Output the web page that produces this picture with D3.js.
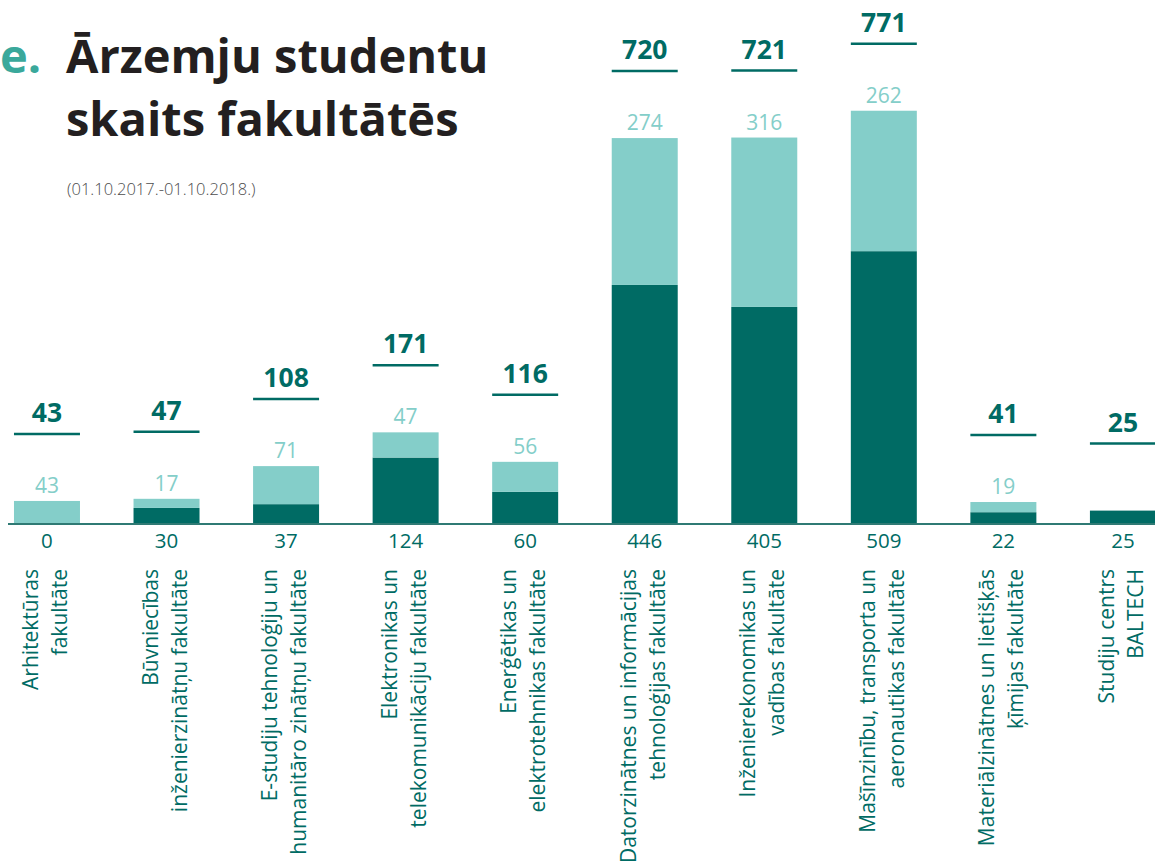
<!DOCTYPE html>
<html><head><meta charset="utf-8">
<script src="https://cdn.jsdelivr.net/npm/d3@7"></script>
<style>
html,body{margin:0;padding:0;background:#fff;}
svg{display:block;}
text{font-family:"Open Sans","Noto Sans",sans-serif;}
</style></head>
<body>
<svg id="chart" width="1155" height="866"></svg>
<script>
const categories = [
  ["Arhitektūras", "fakultāte"],
  ["Būvniecības", "inženierzinātņu fakultāte"],
  ["E-studiju tehnoloģiju un", "humanitāro zinātņu fakultāte"],
  ["Elektronikas un", "telekomunikāciju fakultāte"],
  ["Enerģētikas un", "elektrotehnikas fakultāte"],
  ["Datorzinātnes un informācijas", "tehnoloģijas fakultāte"],
  ["Inženierekonomikas un", "vadības fakultāte"],
  ["Mašīnzinību, transporta un", "aeronautikas fakultāte"],
  ["Materiālzinātnes un lietišķās", "ķīmijas fakultāte"],
  ["Studiju centrs", "BALTECH"]
];
const darkValues  = [0, 30, 37, 124, 60, 446, 405, 509, 22, 25];
const lightValues = [43, 17, 71, 47, 56, 274, 316, 262, 19, 0];
const totals      = [43, 47, 108, 171, 116, 720, 721, 771, 41, 25];

const DARK = "#006b64", LIGHT = "#84cec9";
const svg = d3.select("#chart");
const ids = categories.map((c, i) => i);

const step = 119.55;
const x = d3.scaleBand().domain(ids).range([-12.8, -12.8 + 10 * step]).paddingInner(0.448).paddingOuter(0.224);
const y = d3.scaleLinear().domain([0, 800]).range([524, 524 - 800 * 0.536]);

const data = ids.map(i => ({i, dark: darkValues[i], light: lightValues[i], total: totals[i]}));
const stack = d3.stack().keys(["dark", "light"])(data);
const colors = {dark: DARK, light: LIGHT};

svg.append("g").selectAll("g").data(stack).join("g")
  .attr("fill", d => colors[d.key])
  .selectAll("rect").data(d => d).join("rect")
  .attr("x", d => x(d.data.i))
  .attr("width", x.bandwidth())
  .attr("y", d => y(d[1]))
  .attr("height", d => y(d[0]) - y(d[1]));

// axis baseline
svg.append("line").attr("x1", 8).attr("x2", 1155).attr("y1", y(0)).attr("y2", y(0))
  .attr("stroke", "#2f7a74").attr("stroke-width", 2);

// light segment labels
svg.append("g").selectAll("text").data(data.filter(d => d.light > 0)).join("text")
  .attr("x", d => x(d.i) + x.bandwidth() / 2)
  .attr("y", d => y(d.dark + d.light) - 8)
  .attr("text-anchor", "middle").attr("font-size", 21).attr("fill", LIGHT)
  .text(d => d.light);

// totals
svg.append("g").selectAll("text").data(data).join("text")
  .attr("x", d => x(d.i) + x.bandwidth() / 2)
  .attr("y", d => y(d.total) - 79)
  .attr("text-anchor", "middle").attr("font-size", 26.5).attr("font-weight", 700).attr("fill", DARK)
  .text(d => d.total);
svg.append("g").selectAll("line").data(data).join("line")
  .attr("x1", d => x(d.i)).attr("x2", d => x(d.i) + x.bandwidth())
  .attr("y1", d => y(d.total) - 67).attr("y2", d => y(d.total) - 67)
  .attr("stroke", DARK).attr("stroke-width", 2.5);

// dark values below axis
svg.append("g").selectAll("text").data(data).join("text")
  .attr("x", d => x(d.i) + x.bandwidth() / 2)
  .attr("y", y(0) + 24)
  .attr("text-anchor", "middle").attr("font-size", 20.5).attr("fill", DARK)
  .text(d => d.dark);

// category labels
const lab = svg.append("g").selectAll("text").data(ids).join("text")
  .attr("text-anchor", "end").attr("font-size", 21).attr("fill", DARK)
  .attr("transform", i => `translate(${x(i) + x.bandwidth() / 2},569) rotate(-90)`);
lab.append("tspan").attr("x", 0).attr("y", -9).text(i => categories[i][0]);
lab.append("tspan").attr("x", 0).attr("y", 20).text(i => categories[i][1]);

// title
svg.append("text").attr("x", 0).attr("y", 73).attr("font-size", 47).attr("font-weight", 700)
  .attr("fill", "#3aa89b").text("e.");
svg.append("text").attr("x", 66).attr("y", 73).attr("font-size", 47).attr("font-weight", 700)
  .attr("fill", "#231f20").text("Ārzemju studentu");
svg.append("text").attr("x", 66).attr("y", 136).attr("font-size", 47).attr("font-weight", 700)
  .attr("fill", "#231f20").text("skaits fakultātēs");
svg.append("text").attr("x", 67).attr("y", 195).attr("font-size", 16.5).attr("font-weight", 300)
  .attr("fill", "#4d4d4d").text("(01.10.2017.-01.10.2018.)");
</script>
</body></html>
